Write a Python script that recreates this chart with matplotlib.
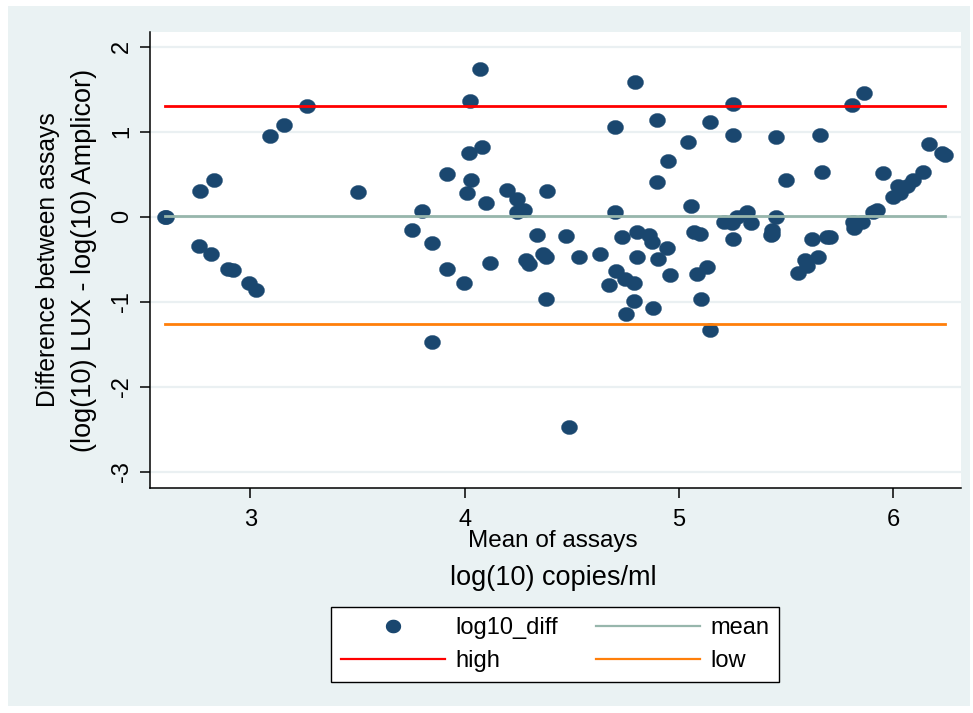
import numpy as np
import matplotlib
matplotlib.use("Agg")
import matplotlib.pyplot as plt
from matplotlib.path import Path
from matplotlib.lines import Line2D
from matplotlib.patches import Rectangle

# Bland-Altman data: mean of the two assays vs their difference (log10 copies/ml)
mean_assays = [
    2.600, 2.607, 2.767, 2.831, 3.093, 3.157, 3.266, 3.505, 3.800, 3.756,
    3.846, 2.762, 2.817, 2.896, 2.919, 2.994, 3.027, 3.850, 4.073, 4.026,
    4.021, 4.082, 3.916, 4.031, 4.009, 4.099, 4.199, 4.245, 4.244, 4.275,
    4.384, 4.702, 4.797, 4.702, 4.897, 4.897, 3.916, 3.997, 4.118, 4.287,
    4.301, 4.337, 4.365, 4.381, 4.471, 4.535, 4.632, 4.734, 4.805, 4.862,
    4.875, 4.805, 4.902, 4.706, 4.749, 4.791, 4.676, 4.379, 4.792, 4.754,
    4.878, 4.486, 5.146, 5.254, 5.253, 5.453, 5.041, 4.951, 5.055, 4.943,
    4.960, 5.068, 5.099, 5.082, 5.130, 5.105, 5.146, 5.211, 5.247, 5.270,
    5.317, 5.335, 5.250, 5.453, 5.433, 5.499, 5.657, 5.666, 5.809, 5.864,
    6.165, 6.242, 6.226, 5.954, 6.140, 6.094, 6.063, 6.024, 6.032, 6.000,
    5.923, 5.907, 5.814, 5.853, 5.817, 5.432, 5.428, 5.623, 5.705, 5.690,
    5.589, 5.597, 5.649, 5.554,
]
log10_diff = [
    0.00, 0.00, 0.30, 0.43, 0.95, 1.08, 1.30, 0.29, 0.07, -0.16,
    -0.31, -0.34, -0.44, -0.61, -0.63, -0.78, -0.86, -1.47, 1.74, 1.365,
    0.75, 0.82, 0.50, 0.435, 0.28, 0.16, 0.31, 0.21, 0.06, 0.08,
    0.30, 1.06, 1.585, 0.06, 1.14, 0.405, -0.61, -0.78, -0.55, -0.51,
    -0.56, -0.21, -0.44, -0.48, -0.23, -0.48, -0.44, -0.24, -0.18, -0.21,
    -0.30, -0.47, -0.50, -0.64, -0.73, -0.78, -0.80, -0.97, -0.99, -1.15,
    -1.07, -2.47, 1.12, 1.33, 0.965, 0.94, 0.88, 0.65, 0.12, -0.37,
    -0.69, -0.18, -0.20, -0.67, -0.59, -0.97, -1.33, -0.06, -0.07, 0.00,
    0.05, -0.08, -0.26, 0.00, -0.20, 0.43, 0.96, 0.53, 1.31, 1.46,
    0.86, 0.72, 0.745, 0.51, 0.52, 0.43, 0.36, 0.36, 0.275, 0.23,
    0.08, 0.05, -0.06, -0.06, -0.13, -0.16, -0.22, -0.26, -0.24, -0.235,
    -0.51, -0.58, -0.48, -0.66,
]

# Reference lines: mean difference and limits of agreement
mean_line = 0.012
high_line = 1.30
low_line = -1.262

x_ticks = [3, 4, 5, 6]
y_ticks = [2, 1, 0, -1, -2, -3]

NAVY = "#1A476F"
MEAN_C = "#97B6AC"
HIGH_C = "#FF0000"
LOW_C = "#FF7F0A"
REGION = "#EAF2F3"
GRID = "#EAF0F2"

W, H = 973, 713
fig = plt.figure(figsize=(W / 100, H / 100), dpi=100, facecolor="white")

# light graph region behind everything
fig.patches.append(Rectangle((8 / W, 7 / H), (970 - 8) / W, (707 - 7) / H,
                             transform=fig.transFigure, facecolor=REGION,
                             edgecolor="none", zorder=-10))

left, right, top, bottom = 149.5, 961, 32, 488
ax = fig.add_axes([left / W, (H - bottom) / H, (right - left) / W, (bottom - top) / H])
ax.set_facecolor("white")

# slightly wide elliptical marker
t = np.linspace(0, 2 * np.pi, 60)
ell = Path(np.column_stack([np.cos(t), 0.88 * np.sin(t)]), closed=True)

xs = np.array(mean_assays)
ys = np.array(log10_diff)
ax.plot(xs, ys, linestyle="none", marker=ell, markersize=11.5,
        markerfacecolor=NAVY, markeredgecolor=NAVY, markeredgewidth=0.3, zorder=3)

x0, x1 = xs.min(), xs.max()
ax.plot([x0, x1], [mean_line, mean_line], color=MEAN_C, lw=2.0, zorder=4)
ax.plot([x0, x1], [high_line, high_line], color=HIGH_C, lw=2.0, zorder=4)
ax.plot([x0, x1], [low_line, low_line], color=LOW_C, lw=2.0, zorder=4)

ax.set_xlim(2.530, 6.316)
ax.set_ylim(-3.192, 2.173)

for yt in y_ticks:
    ax.axhline(yt, color=GRID, lw=1.6, zorder=1)

ax.set_xticks(x_ticks)
ax.set_yticks(y_ticks)
for s in ("top", "right"):
    ax.spines[s].set_visible(False)
for s in ("left", "bottom"):
    ax.spines[s].set_color("black")
    ax.spines[s].set_linewidth(1.1)
ax.tick_params(axis="both", direction="out", length=7, width=1.1, color="black")

sans = ["Liberation Sans", "DejaVu Sans"]

ax.set_xticklabels([str(v) for v in x_ticks], family=sans, fontsize=17)
ax.tick_params(axis="x", pad=8)
ax.set_yticklabels([str(v) for v in y_ticks], family=sans, fontsize=17,
                   rotation=90, va="center")
ax.tick_params(axis="y", pad=5)

fig.text(553 / W, 1 - 541 / H, "Mean of assays", family=sans, fontsize=17.5,
         ha="center", va="center")
fig.text(553 / W, 1 - 578 / H, "log(10) copies/ml", family=sans, fontsize=19.5,
         ha="center", va="center")
fig.text(48 / W, 1 - 260 / H, "Difference between assays", family=sans,
         fontsize=17.7, rotation=90, ha="center", va="center")
fig.text(84 / W, 1 - 260 / H, "(log(10) LUX - log(10) Amplicor)", family=sans,
         fontsize=19.5, rotation=90, ha="center", va="center")

handles = [
    Line2D([], [], linestyle="none", marker=ell, markersize=10, color=NAVY),
    Line2D([], [], color=HIGH_C, lw=1.6),
    Line2D([], [], color=MEAN_C, lw=1.6),
    Line2D([], [], color=LOW_C, lw=1.6),
]
labels = ["log10_diff", "high", "mean", "low"]
leg = fig.legend(handles, labels, ncol=2, loc="center",
                 bbox_to_anchor=(555 / W, 1 - 644.5 / H),
                 bbox_transform=fig.transFigure,
                 prop={"family": sans, "size": 17},
                 fancybox=False, framealpha=1, edgecolor="black",
                 handlelength=4.4, handletextpad=0.45, columnspacing=1.6,
                 borderpad=0.42, labelspacing=0.45, borderaxespad=0)
leg.get_frame().set_linewidth(1.0)

fig.savefig("out.png", dpi=100, facecolor="white")
